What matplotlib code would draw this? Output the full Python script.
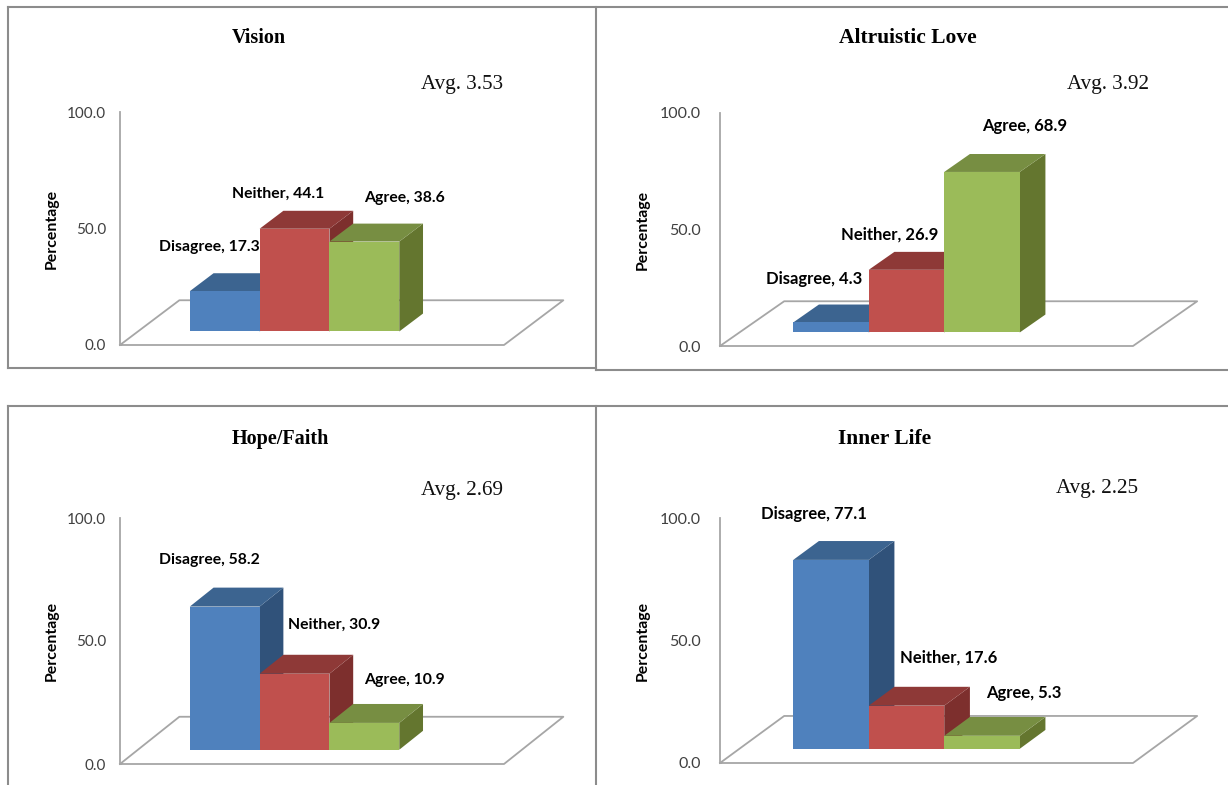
import matplotlib
matplotlib.use('Agg')
import matplotlib.pyplot as plt
from matplotlib.lines import Line2D

W, H = 1228, 785

# Data
categories = ['Disagree', 'Neither', 'Agree']
titles = ['Vision', 'Altruistic Love', 'Hope/Faith', 'Inner Life']
averages = ['Avg. 3.53', 'Avg. 3.92', 'Avg. 2.69', 'Avg. 2.25']
vision = [17.3, 44.1, 38.6]
altruistic_love = [4.3, 26.9, 68.9]
hope_faith = [58.2, 30.9, 10.9]
inner_life = [77.1, 17.6, 5.3]
panel_values = [vision, altruistic_love, hope_faith, inner_life]
y_ticks = [0, 50, 100]

# Layout in pixels of the picture: left, bottom, right, top of each plot
boxes = [(120, 345, 504, 112), (720, 346, 1133, 113),
         (120, 764, 504, 518), (720, 763, 1133, 518)]
title_pos = [(259, 38), (908, 38), (280, 439), (885, 439)]
avg_pos = [(462, 84), (1108, 84), (462, 491), (1097, 489)]
ylabel_x = [59, 650, 59, 650]
tick_pad = [10, 14, 10, 14]
x_start = [-1.5, -1.47, -1.5, -1.47]
# the right hand panels were pasted in a little larger
label_size = [11.3, 12, 11.3, 12]
tick_size = [11, 11.5, 11, 11.5]
title_size = [14.5, 15.5, 14.5, 15.5]
# label offset from the top middle of each bar, pixels (right, up)
label_offsets = [
    [(-15, 44), (-16, 35), (40, 44)],
    [(-17, 43), (-17, 35), (43, 46)],
    [(-15, 47), (40, 49), (40, 43)],
    [(-17, 46), (42, 48), (42, 43)],
]

front = ['#4F81BD', '#C0504D', '#9BBB59']
top = ['#3C6490', '#8E3937', '#778E42']
side = ['#30527A', '#7D2F2D', '#64762F']
GRAY = '#a6a6a6'
FRAME = '#8c8c8c'

# 3D look, in data units
FLOOR_DX, FLOOR_DY = 0.85, 19.2
BAR_DX, BAR_DY = 0.34, 7.7
BAR_BASE = 5.8

plt.rcParams['font.family'] = ['Lato', 'DejaVu Sans']
fig = plt.figure(figsize=(W / 100, H / 100), dpi=100)


def fx(x):
    return x / W


def fy(y):
    return 1 - y / H


def frame_line(x0, y0, x1, y1):
    fig.add_artist(Line2D([fx(x0), fx(x1)], [fy(y0), fy(y1)], color=FRAME, lw=1.5))


# Panel frames
frame_line(8, 7, 1228, 7)
frame_line(8, 7, 8, 368)
frame_line(8, 368, 596, 368)
frame_line(596, 7, 596, 370)
frame_line(596, 370, 1228, 370)
frame_line(8, 406, 1228, 406)
frame_line(8, 406, 8, 785)
frame_line(596, 406, 596, 785)

for n, values in enumerate(panel_values):
    l, b, r, t = boxes[n]
    ax = fig.add_axes([fx(l), fy(b), (r - l) / W, (b - t) / H])
    ax.set_xlim(x_start[n], 4)
    ax.set_ylim(0, 100)
    ax.patch.set_visible(False)

    # floor
    x0, x1 = ax.get_xlim()
    ax.plot([x0, x1, x1 + FLOOR_DX, x0 + FLOOR_DX, x0],
            [0, 0, FLOOR_DY, FLOOR_DY, 0], color=GRAY, lw=1.3, clip_on=False)

    # bars, left to right so the next one covers the last one
    for i, v in enumerate(values):
        a, c = i - 0.5, i + 0.5
        low, high = BAR_BASE, BAR_BASE + v
        ax.fill([c, c + BAR_DX, c + BAR_DX, c],
                [low, low + BAR_DY, high + BAR_DY, high], color=side[i], lw=0, zorder=3)
        ax.fill([a, c, c + BAR_DX, a + BAR_DX],
                [high, high, high + BAR_DY, high + BAR_DY], color=top[i], lw=0, zorder=3)
        ax.fill([a, c, c, a], [low, low, high, high], color=front[i], lw=0, zorder=3)
        dx, dy = label_offsets[n][i]
        ax.annotate(categories[i] + ', ' + str(v), xy=(i, high), xytext=(dx * 0.72, dy * 0.72),
                    textcoords='offset points', ha='center', va='center',
                    fontsize=label_size[n], fontweight='bold', color='black', zorder=5)

    for s in ['top', 'right', 'bottom']:
        ax.spines[s].set_visible(False)
    ax.spines['left'].set_color(GRAY)
    ax.spines['left'].set_linewidth(1.3)
    ax.set_xticks([])
    ax.set_yticks(y_ticks)
    ax.set_yticklabels(['%.1f' % y for y in y_ticks], fontsize=tick_size[n], color='#404040')
    ax.tick_params(axis='y', length=0, pad=tick_pad[n])
    ax.set_ylabel('Percentage', fontsize=11.4, fontweight='bold', color='black')
    ax.yaxis.set_label_coords((ylabel_x[n] - l) / (r - l), 0.5)

    fig.text(fx(title_pos[n][0]), fy(title_pos[n][1]), titles[n], ha='center', va='center',
             fontsize=title_size[n], fontweight='bold', family='Liberation Serif')
    fig.text(fx(avg_pos[n][0]), fy(avg_pos[n][1]), averages[n], ha='center', va='center',
             fontsize=15.2, family='Liberation Serif', color='#111111')

plt.savefig('out.png', dpi=100)
